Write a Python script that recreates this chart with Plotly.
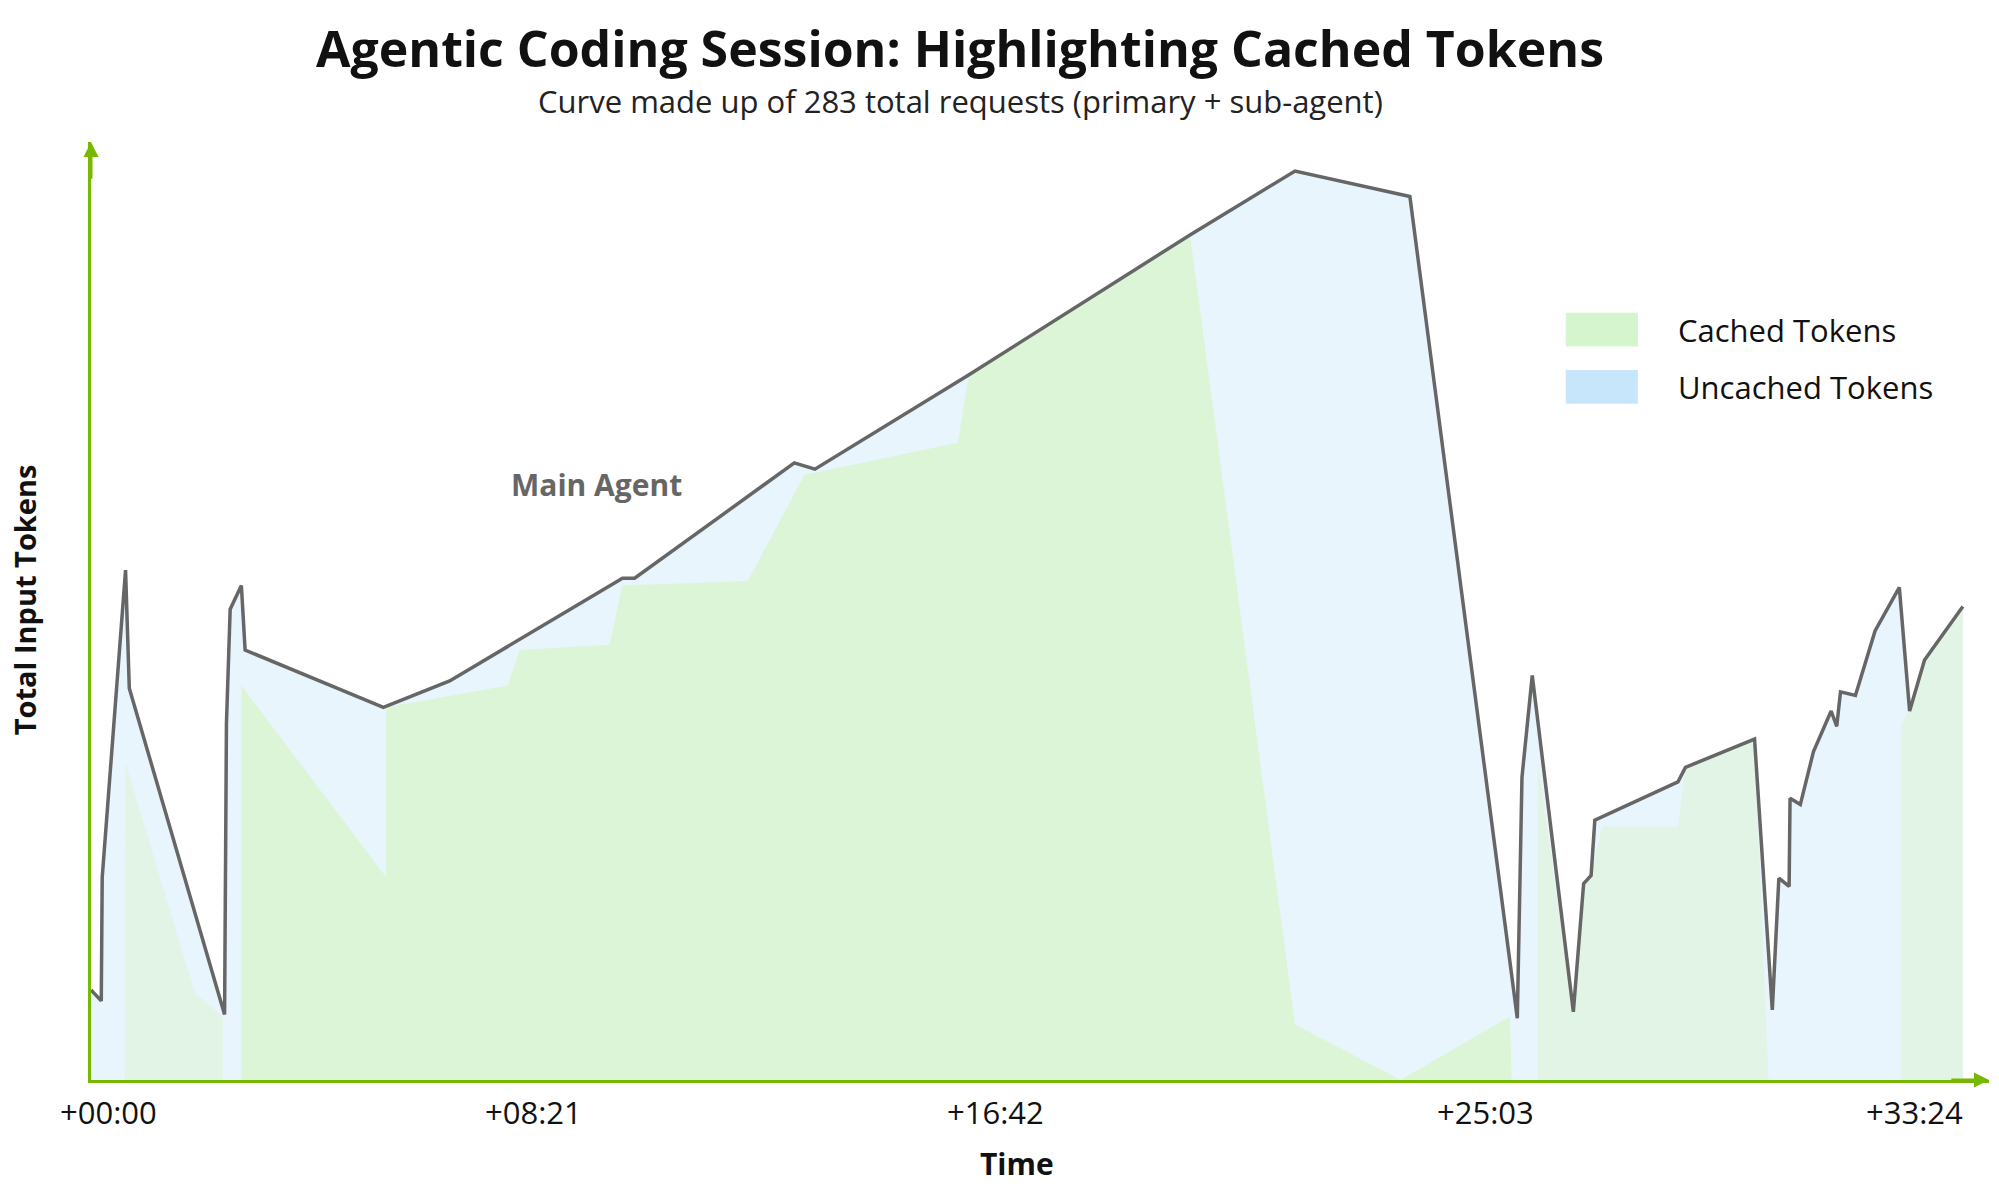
import plotly.graph_objects as go

# time in seconds, tokens in thousands (relative scale)
total_t = [0, 11, 12, 37, 41, 143, 145, 149, 161, 165, 313, 384, 569, 582, 753, 775, 940, 1177, 1289, 1412,
           1527, 1532, 1543, 1587, 1598, 1606, 1610, 1699, 1707, 1781, 1800, 1807, 1818, 1819, 1830, 1844,
           1863, 1869, 1873, 1889, 1910, 1936, 1947, 1963, 2004, 2004]
total_y = [9.9, 8.7, 22.3, 56.1, 43.1, 7.2, 39.2, 51.8, 54.4, 47.3, 41.0, 43.9, 55.2, 55.2, 67.9, 67.2, 77.6,
           93.0, 100, 97.2, 6.8, 33.3, 44.5, 7.5, 21.6, 22.5, 28.6, 32.8, 34.4, 37.5, 7.7, 22.2, 21.3, 31.0,
           30.3, 36.1, 40.6, 38.9, 42.7, 42.3, 49.4, 54.2, 40.6, 46.2, 52.1, 0]

cached_main_t = [161, 161, 316, 316, 446, 459, 555, 569, 703, 764, 928, 940, 1177, 1289, 1402]
cached_main_y = [0, 43.4, 22.3, 41.0, 43.4, 47.3, 47.9, 54.4, 54.9, 66.6, 70.1, 77.6, 92.7, 6.1, 0]
cached_gap_t = [1402, 1519, 1521]
cached_gap_y = [0, 7.0, 0]
sub1_t = [36, 37, 111, 141, 141]
sub1_y = [0, 34.9, 9.6, 7.0, 0]
sub2_t = [1549, 1549, 1587, 1598, 1606, 1618, 1699, 1707, 1781, 1796]
sub2_y = [0, 34.9, 7.5, 21.6, 22.5, 27.9, 27.9, 34.4, 37.5, 0]
sub3_t = [1938, 1938, 1947, 1963, 2004, 2004]
sub3_y = [0, 39.2, 40.6, 46.2, 52.1, 0]

tick_pos = [19, 474, 968, 1493, 1952]
tick_text = ["+00:00", "+08:21", "+16:42", "+25:03", "+33:24"]
legend_names = ["Cached Tokens", "Uncached Tokens"]
legend_colors = ["#d5f5cf", "#c8e6fb"]

GREEN = "#dcf5d6"
TEAL = "#e2f4e6"
BLUE = "#e8f5fd"
AX = "#76b900"
FONT = "Open Sans"

fig = go.Figure()
fig.add_trace(go.Scatter(x=total_t, y=total_y, fill="tozeroy", fillcolor=BLUE, mode="none",
                         showlegend=False, hoverinfo="skip"))
for tx, ty, c in [(cached_main_t, cached_main_y, GREEN), (cached_gap_t, cached_gap_y, GREEN),
                  (sub1_t, sub1_y, TEAL), (sub2_t, sub2_y, TEAL), (sub3_t, sub3_y, TEAL)]:
    fig.add_trace(go.Scatter(x=tx, y=ty, fill="toself", fillcolor=c, mode="none",
                             showlegend=False, hoverinfo="skip"))
fig.add_trace(go.Scatter(x=total_t[:-1], y=total_y[:-1], mode="lines",
                         line=dict(color="#666666", width=3.5), showlegend=False))

annotations = [
    dict(text="<b>Agentic Coding Session: Highlighting Cached Tokens</b>", xref="paper", yref="paper",
         x=0.458, y=1.100, yanchor="middle", showarrow=False, font=dict(size=50, color="#111")),
    dict(text="Curve made up of 283 total requests (primary + sub-agent)", xref="paper", yref="paper",
         x=0.458, y=1.044, yanchor="middle", showarrow=False, font=dict(size=31, color="#222")),
    dict(text="<b>Time</b>", xref="paper", yref="paper", x=0.488, y=-0.0885, yanchor="middle",
         showarrow=False, font=dict(size=30)),
    dict(text="<b>Total Input Tokens</b>", xref="paper", yref="paper", x=-0.035, y=0.512,
         xanchor="center", yanchor="middle", textangle=-90, showarrow=False, font=dict(size=29)),
    dict(text="<b>Main Agent</b>", x=541, y=65.5, showarrow=False, font=dict(size=30, color="#666")),
    dict(x=2032, y=0, ax=1990, ay=0, axref="x", ayref="y", showarrow=True, arrowhead=2,
         arrowsize=1, arrowwidth=3, arrowcolor=AX, text=""),
    dict(x=0, y=103.2, ax=0, ay=99, axref="x", ayref="y", showarrow=True, arrowhead=2,
         arrowsize=1, arrowwidth=3, arrowcolor=AX, text=""),
]
for p, t in zip(tick_pos, tick_text):
    annotations.append(dict(text=t, x=p, xref="x", yref="paper", y=-0.034, yanchor="middle",
                            showarrow=False, font=dict(size=31, color="#111")))

shapes = []
leg_y = [0.80, 0.739]
for name, col, yy in zip(legend_names, legend_colors, leg_y):
    shapes.append(dict(type="rect", xref="paper", yref="paper", x0=0.777, x1=0.815,
                       y0=yy - 0.018, y1=yy + 0.018, fillcolor=col, line=dict(width=0)))
    annotations.append(dict(text=name, xref="paper", yref="paper", x=0.835, y=yy, xanchor="left",
                            yanchor="middle", showarrow=False, font=dict(size=31, color="#111")))

fig.update_layout(
    width=1999, height=1199, plot_bgcolor="white", paper_bgcolor="white",
    margin=dict(l=83, r=18, t=134, b=127),
    font=dict(family=FONT, color="#111"), showlegend=False,
    xaxis=dict(range=[0, 2032], showticklabels=False, showgrid=False, zeroline=False,
               showline=True, linecolor=AX, linewidth=3, ticks=""),
    yaxis=dict(range=[0, 103.2], showticklabels=False, showgrid=False, zeroline=False,
               showline=True, linecolor=AX, linewidth=3, ticks=""),
    annotations=annotations, shapes=shapes,
)
fig.write_html("out.html")
